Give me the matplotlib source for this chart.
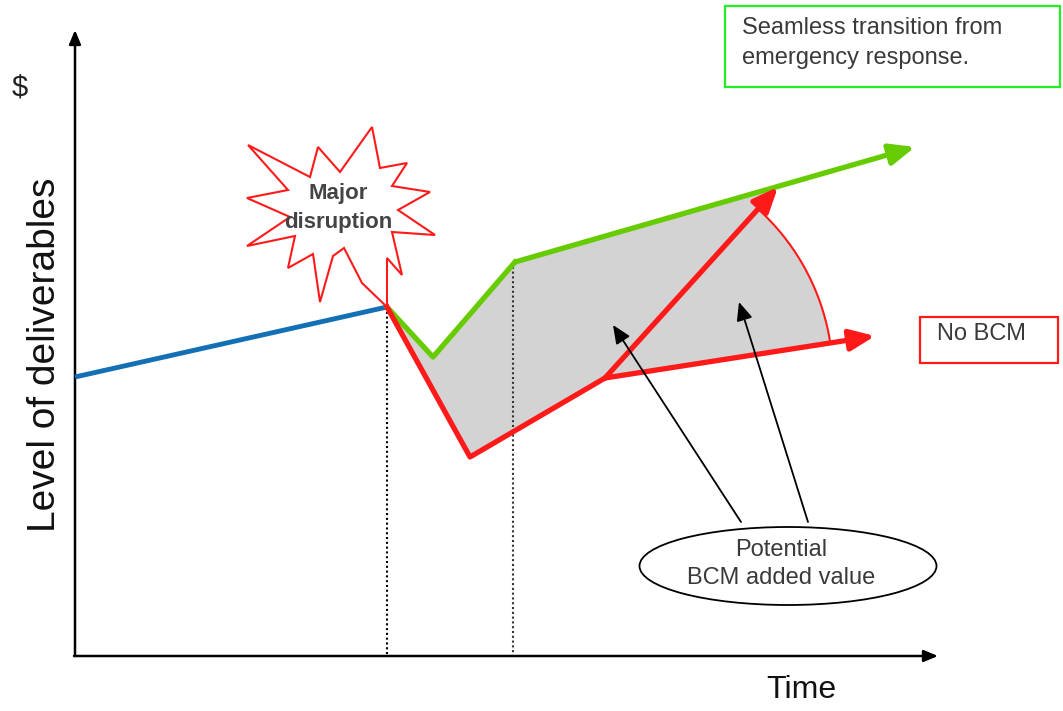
import numpy as np
import matplotlib
matplotlib.use("Agg")
import matplotlib.pyplot as plt
from matplotlib.patches import Polygon, Rectangle, Ellipse

plt.rcParams['font.family'] = ['Liberation Sans', 'DejaVu Sans']

# path of deliverables before the disruption
pre_x = [75, 387]
pre_y = [377, 307]

# with BCM: short dip then a seamless recovery
bcm_x = [387, 433, 515, 915]
bcm_y = [307, 357, 262, 147]

# without BCM: deep dip then slow recovery
no_bcm_x = [387, 470, 605, 875]
no_bcm_y = [307, 457, 378, 336]

# recovery that BCM could add on top of the slow path
gain_x = [605, 778]
gain_y = [378, 187]

# jagged burst marking the disruption
burst_x = [248, 310, 318, 340, 372, 380, 407, 392, 430, 398, 435, 392, 402, 387,
           387, 362, 344, 333, 320, 313, 288, 295, 247, 290, 247, 288]
burst_y = [145, 177, 147, 172, 127, 168, 163, 186, 192, 210, 235, 232, 275, 258,
           307, 283, 248, 256, 302, 254, 268, 236, 246, 217, 198, 190]

RED = '#ff1a1a'
GREEN = '#66cc00'
BLUE = '#1370b5'

fig = plt.figure(figsize=(10.63, 7.11), dpi=100)
ax = fig.add_axes([0, 0, 1, 1])
ax.set_xlim(0, 1063)
ax.set_ylim(711, 0)
ax.set_aspect('equal')
ax.axis('off')

# shaded gap between the two recovery paths
r = 228
a0 = np.arctan2(gain_y[1] - gain_y[0], gain_x[1] - gain_x[0])
a1 = np.arctan2(no_bcm_y[3] - no_bcm_y[2], no_bcm_x[3] - no_bcm_x[2])
ang = np.linspace(a0, a1, 40)
arc_x = no_bcm_x[2] + r * np.cos(ang)
arc_y = no_bcm_y[2] + r * np.sin(ang)
fill_x = bcm_x[:3] + [gain_x[1]] + list(arc_x) + [no_bcm_x[2], no_bcm_x[1]]
fill_y = bcm_y[:3] + [gain_y[1]] + list(arc_y) + [no_bcm_y[2], no_bcm_y[1]]
ax.add_patch(Polygon(np.column_stack([fill_x, fill_y]), closed=True,
                     facecolor='#d3d3d3', edgecolor='none', zorder=1))
ax.plot(arc_x, arc_y, color=RED, lw=1.5, zorder=3)

# dotted markers at the disruption and at the BCM recovery point
ax.plot([pre_x[1], pre_x[1]], [pre_y[1], 655], color='black', ls=(0, (1, 1.3)), lw=1.5, zorder=2)
ax.plot([bcm_x[2] - 2, bcm_x[2] - 2], [bcm_y[2], 655], color='#333333', ls=(0, (1, 1.3)), lw=1.5, zorder=2)

# axes with arrow heads
head = dict(arrowstyle='-|>,head_length=0.6,head_width=0.25', color='black',
            lw=1.8, shrinkA=0, shrinkB=0, mutation_scale=14)
ax.annotate('', xy=(75, 30), xytext=(75, 656), arrowprops=head, zorder=4)
ax.annotate('', xy=(938, 656), xytext=(74, 656), arrowprops=head, zorder=4)

# lines
ax.plot(pre_x, pre_y, color=BLUE, lw=3.5, solid_capstyle='butt', zorder=5)
ax.plot(bcm_x[:3], bcm_y[:3], color=GREEN, lw=3.8, zorder=5)
ax.plot(no_bcm_x[:3], no_bcm_y[:3], color=RED, lw=3.8, zorder=5)


def arrow(xs, ys, color):
    ax.annotate('', xy=(xs[-1], ys[-1]), xytext=(xs[-2], ys[-2]),
                arrowprops=dict(arrowstyle='-|>,head_length=0.75,head_width=0.32',
                                color=color, lw=3.8, shrinkA=0, shrinkB=0,
                                mutation_scale=20), zorder=6)


arrow(bcm_x, bcm_y, GREEN)
arrow(no_bcm_x, no_bcm_y, RED)
arrow(gain_x, gain_y, RED)

# disruption burst
ax.add_patch(Polygon(np.column_stack([burst_x, burst_y]), closed=True,
                     facecolor='white', edgecolor=RED, lw=1.5, zorder=7))
ax.text(338, 208, 'Major\ndisruption', ha='center', va='center', fontsize=16,
        fontweight='bold', color='#444444', linespacing=1.45, zorder=8)

# axis labels
ax.text(45, 355, 'Level of deliverables', rotation=90, ha='center', va='center',
        fontsize=28, color='#111111')
ax.text(20, 88, '$', ha='center', va='center', fontsize=21, color='#222222')
ax.text(801, 690, 'Time', ha='center', va='center', fontsize=23, color='#111111')

# call-out boxes
ax.add_patch(Rectangle((725, 6), 335, 81, facecolor='white', edgecolor='#22ee22', lw=1.6, zorder=8))
ax.text(742, 43, 'Seamless transition from\nemergency response.', ha='left', va='center',
        fontsize=17, color='#3a3a3a', linespacing=1.45, zorder=9)

ax.add_patch(Rectangle((920, 317), 138, 46, facecolor='white', edgecolor=RED, lw=1.6, zorder=8))
ax.text(937, 334, 'No BCM', ha='left', va='center', fontsize=17, color='#3a3a3a', zorder=9)

# pointers to the shaded gap
ptr = dict(arrowstyle='-|>,head_length=0.8,head_width=0.35', color='black',
           lw=1.3, shrinkA=0, shrinkB=0, mutation_scale=14)
ax.annotate('', xy=(613, 325), xytext=(741, 522), arrowprops=ptr, zorder=6)
ax.annotate('', xy=(739, 302), xytext=(808, 522), arrowprops=ptr, zorder=6)

ax.add_patch(Ellipse((788, 566), 297, 78, facecolor='white', edgecolor='black', lw=1.3, zorder=8))
ax.text(781, 564, 'Potential\nBCM added value', ha='center', va='center', fontsize=17,
        color='#3a3a3a', linespacing=1.35, zorder=9)

fig.savefig('out.png', dpi=100)
